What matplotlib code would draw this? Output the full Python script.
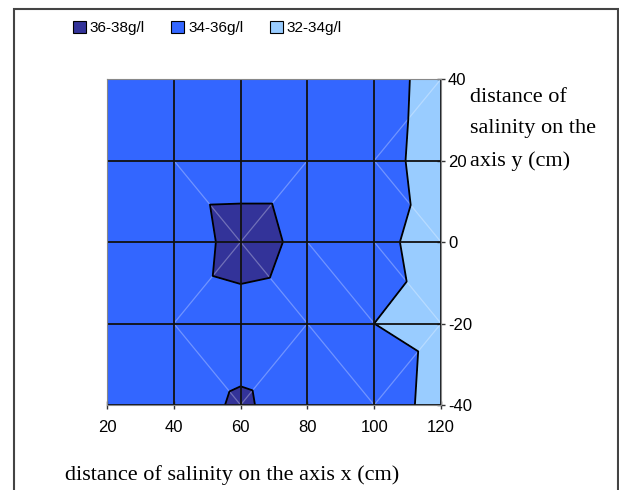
import numpy as np
import matplotlib
matplotlib.use('Agg')
import matplotlib.pyplot as plt
import matplotlib.tri as mtri
from matplotlib.patches import Patch, Rectangle

# grid of the measurements (cm)
x_pos = [20, 40, 60, 80, 100, 120]
y_pos = [-40, -20, 0, 20, 40]

# salinity (g/l), rows follow y_pos, columns follow x_pos
salinity = [
    [35.00, 35.54, 36.14, 35.49, 35.06, 33.32],   # y = -40
    [35.00, 35.30, 35.53, 35.36, 34.00, 33.45],   # y = -20
    [35.00, 35.15, 36.50, 35.71, 34.52, 33.17],   # y = 0
    [35.00, 35.41, 35.44, 35.44, 35.00, 32.87],   # y = 20
    [35.00, 35.10, 35.20, 35.30, 35.10, 33.04],   # y = 40
]

# split of each cell into triangles: 1 = "/", -1 = "\", 0 = "/" but not drawn
cell_diag = [
    [0, -1, 1, -1, 1],
    [0, 1, -1, -1, -1],
    [0, -1, 1, 0, -1],
    [0, 0, 0, 0, 1],
]

levels = [32, 34, 36, 38]
band_labels = ['32-34g/l', '34-36g/l', '36-38g/l']
band_colors = ['#99CCFF', '#3366FF', '#333399']

plt.rcParams['font.family'] = ['Liberation Sans Narrow', 'Liberation Sans', 'DejaVu Sans']
plt.rcParams['axes.unicode_minus'] = False

nx, ny = len(x_pos), len(y_pos)
X, Y = np.meshgrid(x_pos, y_pos)
Z = np.array(salinity)

def node(i, j):
    return j * nx + i

triangles = []
for j in range(ny - 1):
    for i in range(nx - 1):
        a, b = node(i, j), node(i + 1, j)
        c, d = node(i + 1, j + 1), node(i, j + 1)
        if cell_diag[j][i] == -1:
            triangles += [[a, b, d], [b, c, d]]
        else:
            triangles += [[a, b, c], [a, c, d]]
tri = mtri.Triangulation(X.ravel(), Y.ravel(), np.array(triangles))

fig = plt.figure(figsize=(6.19, 4.90), dpi=100)
ax = fig.add_axes([107 / 619, 85 / 490, 334 / 619, 326 / 490])

ax.tricontourf(tri, Z.ravel(), levels=levels, colors=band_colors)

# light mesh diagonals
for j in range(ny - 1):
    for i in range(nx - 1):
        d = cell_diag[j][i]
        if d == 1:
            ax.plot([x_pos[i], x_pos[i + 1]], [y_pos[j], y_pos[j + 1]],
                    color='white', alpha=0.3, lw=0.9)
        elif d == -1:
            ax.plot([x_pos[i], x_pos[i + 1]], [y_pos[j + 1], y_pos[j]],
                    color='white', alpha=0.3, lw=0.9)

ax.tricontour(tri, Z.ravel(), levels=[34, 36], colors='black', linewidths=1.3)

for xv in x_pos:
    ax.axvline(xv, color='#111111', lw=1.3)
for yv in y_pos:
    ax.axhline(yv, color='#111111', lw=1.3)

ax.set_xlim(20, 120)
ax.set_ylim(-40, 40)
ax.set_xticks(x_pos)
ax.set_yticks(y_pos)
ax.yaxis.tick_right()
ax.tick_params(axis='both', direction='inout', length=6, width=1, labelsize=12, color='#333333')
ax.tick_params(axis='x', pad=8)
ax.tick_params(axis='y', pad=2)
for s in ax.spines.values():
    s.set_color('#888888')
    s.set_linewidth(0.8)

fig.text(65 / 619, 1 - 475 / 490, 'distance of salinity on the axis x (cm)',
         family='Liberation Serif', fontsize=16, va='center', ha='left')
fig.text(470 / 619, 1 - 88 / 490, 'distance of\nsalinity on the\naxis y (cm)',
         family='Liberation Serif', fontsize=16, va='top', ha='left', linespacing=1.88)

handles = [Patch(facecolor=band_colors[k], edgecolor='black', lw=0.8) for k in (2, 1, 0)]
fig.legend(handles, [band_labels[k] for k in (2, 1, 0)], loc='upper left',
           bbox_to_anchor=(59 / 619, 1 - 7 / 490), ncol=3, frameon=False,
           fontsize=11, handlelength=0.85, handleheight=0.85, handletextpad=0.25,
           columnspacing=1.75)

fig.patches.append(Rectangle((14 / 619, -0.05), 604 / 619, 1.05 - 9 / 490,
                             transform=fig.transFigure, fill=False,
                             edgecolor='#444444', lw=1.5))

fig.savefig('out.png', dpi=100)
